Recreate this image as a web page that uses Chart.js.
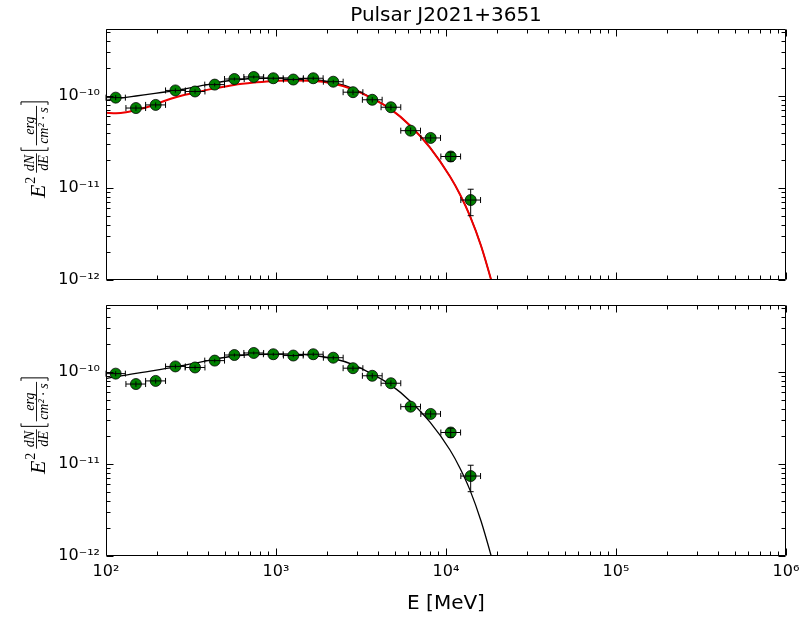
<!DOCTYPE html>
<html>
<head>
<meta charset="utf-8">
<script src="https://cdn.jsdelivr.net/npm/chart.js@4.4.1/dist/chart.umd.min.js"></script>
<style>
  body { margin: 0; background: #fff; }
  #wrap { position: relative; width: 806px; height: 621px; }
  canvas { position: absolute; left: 0; }
</style>
</head>
<body>
<div id="wrap">
  <canvas id="topChart" width="806" height="300" style="top:0"></canvas>
  <canvas id="bottomChart" width="806" height="336" style="top:285px"></canvas>
</div>
<script>
// measured spectral points (E in MeV, E^2 dN/dE in erg/cm2/s)
var energy   = [114, 150, 196, 256, 334, 436, 569, 740, 964, 1264, 1656, 2172, 2837, 3683, 4742, 6194, 8124, 10660, 13970];
var energyLo = [100, 131, 171, 224, 292, 381, 498, 647, 843, 1106, 1449, 1900, 2482, 3222, 4149, 5419, 7108, 9326, 12222];
var energyHi = [130, 171, 224, 293, 382, 498, 650, 846, 1102, 1445, 1893, 2483, 3243, 4210, 5420, 7080, 9286, 12184, 15968];
var flux     = [9.6e-11, 7.4e-11, 8.0e-11, 1.15e-10, 1.12e-10, 1.33e-10, 1.53e-10, 1.61e-10, 1.56e-10, 1.51e-10, 1.56e-10, 1.43e-10, 1.10e-10, 9.1e-11, 7.55e-11, 4.2e-11, 3.5e-11, 2.2e-11, 7.4e-12];
var fluxLo   = [9.0e-11, 6.9e-11, 7.5e-11, 1.09e-10, 1.06e-10, 1.27e-10, 1.47e-10, 1.55e-10, 1.50e-10, 1.45e-10, 1.49e-10, 1.36e-10, 1.03e-10, 8.5e-11, 7.0e-11, 3.85e-11, 3.2e-11, 1.95e-11, 5.0e-12];
var fluxHi   = [1.02e-10, 7.9e-11, 8.5e-11, 1.21e-10, 1.18e-10, 1.39e-10, 1.59e-10, 1.67e-10, 1.62e-10, 1.57e-10, 1.63e-10, 1.50e-10, 1.17e-10, 9.7e-11, 8.1e-11, 4.55e-11, 3.8e-11, 2.45e-11, 9.7e-12];

// model curves
var modelE = [100, 114.5, 131.1, 150, 171.9, 194.2, 222.3, 254.6, 291.5, 333.8, 437.7, 566.2, 742.4, 972.9, 1276, 1673, 2164, 2837, 3670, 4749, 6141, 8053, 10557, 12090, 13843, 16069, 18650, 20780];
var modelTopBlack = [8.93e-11, 9.33e-11, 9.68e-11, 1.00e-10, 1.036e-10, 1.07e-10, 1.105e-10, 1.142e-10, 1.194e-10, 1.253e-10, 1.384e-10, 1.493e-10, 1.549e-10, 1.570e-10, 1.562e-10, 1.511e-10, 1.402e-10, 1.206e-10, 9.51e-11, 7.15e-11, 4.78e-11, 2.755e-11, 1.334e-11, 8.50e-12, 4.96e-12, 2.36e-12, 9.28e-13, 4.38e-13];
var modelTopRed = [6.57e-11, 6.50e-11, 6.65e-11, 7.05e-11, 7.50e-11, 8.09e-11, 8.87e-11, 9.64e-11, 1.03e-10, 1.09e-10, 1.21e-10, 1.32e-10, 1.40e-10, 1.46e-10, 1.47e-10, 1.46e-10, 1.37e-10, 1.18e-10, 9.4e-11, 7.15e-11, 4.78e-11, 2.755e-11, 1.334e-11, 8.50e-12, 4.96e-12, 2.36e-12, 9.28e-13, 4.38e-13];
var modelBottom = [8.49e-11, 8.89e-11, 9.27e-11, 9.64e-11, 1.005e-10, 1.043e-10, 1.087e-10, 1.133e-10, 1.19e-10, 1.25e-10, 1.384e-10, 1.493e-10, 1.549e-10, 1.570e-10, 1.562e-10, 1.511e-10, 1.402e-10, 1.206e-10, 9.51e-11, 7.2e-11, 4.85e-11, 2.85e-11, 1.42e-11, 9.0e-12, 5.2e-12, 2.4e-12, 9.3e-13, 4.4e-13];

var xTicks = [1e2, 1e3, 1e4, 1e5, 1e6];
var xTickLabels = ['10²', '10³', '10⁴', '10⁵', '10⁶'];
var yTicks = [1e-12, 1e-11, 1e-10];
var yTickLabels = ['10⁻¹²', '10⁻¹¹', '10⁻¹⁰'];

Chart.defaults.font.family = '"DejaVu Sans", sans-serif';
Chart.defaults.color = '#000';

function xy(xs, ys) {
  return xs.map(function (x, i) { return { x: x, y: ys[i] }; });
}

var serif = '"Liberation Serif", "DejaVu Serif", serif';

// E^2 dN/dE [erg / cm^2 s], rotated, drawn as a small mathtext-like label
function drawYLabel(ctx, cx, cy) {
  function frac(u, num, den, size, draw) {
    ctx.font = 'italic ' + size + 'px ' + serif;
    var wn = ctx.measureText(num).width, wd = ctx.measureText(den).width;
    var w = Math.max(wn, wd) + 3;
    if (draw) {
      ctx.fillRect(u, -9, w, 0.9);
      ctx.fillText(num, u + (w - wn) / 2, -11.5);
      ctx.fillText(den, u + (w - wd) / 2, 3);
    }
    return u + w;
  }
  function bracket(u, open, draw) {
    if (draw) {
      ctx.beginPath();
      var a = open ? u + 3 : u, b = open ? u : u + 3;
      ctx.moveTo(a, -24); ctx.lineTo(b, -24); ctx.lineTo(b, 3); ctx.lineTo(a, 3);
      ctx.stroke();
    }
    return u + 4;
  }
  function layout(draw) {
    var u = 0;
    ctx.font = 'italic 22px ' + serif;
    if (draw) ctx.fillText('E', u, 0);
    u += ctx.measureText('E').width + 1;
    ctx.font = '14px ' + serif;
    if (draw) ctx.fillText('2', u, -10);
    u += ctx.measureText('2').width + 4;
    u = frac(u, 'dN', 'dE', 14, draw) + 3;
    u = bracket(u, true, draw) + 1;
    u = frac(u, 'erg', 'cm² · s', 14, draw) + 1;
    u = bracket(u, false, draw);
    return u;
  }
  ctx.save();
  ctx.fillStyle = '#000';
  ctx.strokeStyle = '#000';
  ctx.lineWidth = 1;
  ctx.textAlign = 'left';
  ctx.textBaseline = 'alphabetic';
  var len = layout(false);
  ctx.translate(cx, cy + len / 2);
  ctx.rotate(-Math.PI / 2);
  layout(true);
  ctx.restore();
}

var panelDecor = {
  id: 'panelDecor',
  afterDatasetsDraw: function (chart) {
    var ctx = chart.ctx, xs = chart.scales.x, ys = chart.scales.y;
    ctx.save();
    ctx.strokeStyle = '#000';
    ctx.lineWidth = 1;
    ctx.beginPath();
    for (var i = 0; i < energy.length; i++) {
      var px = xs.getPixelForValue(energy[i]);
      var py = ys.getPixelForValue(flux[i]);
      var x0 = xs.getPixelForValue(energyLo[i]), x1 = xs.getPixelForValue(energyHi[i]);
      var y0 = ys.getPixelForValue(fluxLo[i]), y1 = ys.getPixelForValue(fluxHi[i]);
      ctx.moveTo(x0, py); ctx.lineTo(x1, py);
      ctx.moveTo(x0, py - 3); ctx.lineTo(x0, py + 3);
      ctx.moveTo(x1, py - 3); ctx.lineTo(x1, py + 3);
      ctx.moveTo(px, y0); ctx.lineTo(px, y1);
      if (y0 - y1 > 8) {
        ctx.moveTo(px - 3, y0); ctx.lineTo(px + 3, y0);
        ctx.moveTo(px - 3, y1); ctx.lineTo(px + 3, y1);
      }
    }
    ctx.stroke();
    ctx.restore();
  },
  afterDraw: function (chart, args, opts) {
    var ctx = chart.ctx, a = chart.chartArea;
    var xs = chart.scales.x, ys = chart.scales.y;
    var L = Math.round(a.left) + 0.5, R = Math.round(a.right) - 0.5;
    var T = Math.round(a.top) + 0.5, B = Math.round(a.bottom) - 0.5;
    ctx.save();
    ctx.strokeStyle = '#000';
    ctx.lineWidth = 1;
    ctx.beginPath();
    ctx.rect(L, T, R - L, B - T);
    // inward ticks on all four sides
    for (var d = 2; d <= 6; d++) {
      for (var m = 1; m <= 9; m++) {
        var v = m * Math.pow(10, d);
        if (v > 1e6 * 1.0001) break;
        var px = Math.round(xs.getPixelForValue(v)) + 0.5;
        var len = m === 1 ? 7 : 4;
        ctx.moveTo(px, B); ctx.lineTo(px, B - len);
        ctx.moveTo(px, T); ctx.lineTo(px, T + len);
      }
    }
    for (var e = -12; e <= -10; e++) {
      for (var k = 1; k <= 9; k++) {
        var w = k * Math.pow(10, e);
        if (w > ys.max) break;
        var py = Math.round(ys.getPixelForValue(w)) + 0.5;
        var l2 = k === 1 ? 7 : 4;
        ctx.moveTo(L, py); ctx.lineTo(L + l2, py);
        ctx.moveTo(R, py); ctx.lineTo(R - l2, py);
      }
    }
    ctx.stroke();
    drawYLabel(ctx, 45, (a.top + a.bottom) / 2 - 5);
    if (opts.title) {
      ctx.fillStyle = '#000';
      ctx.font = '20px "DejaVu Sans"';
      ctx.textAlign = 'center';
      ctx.textBaseline = 'alphabetic';
      ctx.fillText(opts.title, (a.left + a.right) / 2, 21);
    }
    ctx.restore();
  }
};

function makeOptions(isBottom, title) {
  return {
    responsive: false,
    animation: false,
    layout: { padding: isBottom ? { top: 20, right: 20, bottom: 0, left: 0 } : { top: 29, right: 20, bottom: 20, left: 0 } },
    plugins: {
      legend: { display: false },
      tooltip: { enabled: false },
      panelDecor: { title: title }
    },
    scales: {
      x: {
        type: 'logarithmic',
        min: 100,
        max: 1e6,
        grid: { display: false, drawTicks: false },
        border: { display: false },
        afterBuildTicks: function (s) { s.ticks = xTicks.map(function (v) { return { value: v }; }); },
        ticks: {
          display: isBottom,
          autoSkip: false,
          maxRotation: 0,
          padding: 6,
          font: { size: 16 },
          callback: function (v, i) { return xTickLabels[i]; }
        },
        title: { display: isBottom, text: 'E [MeV]', font: { size: 20 }, padding: { top: 0, bottom: 5 } },
        afterFit: function (s) { s.height = isBottom ? 65 : 0; }
      },
      y: {
        type: 'logarithmic',
        min: 1e-12,
        max: 5.35e-10,
        grid: { display: false, drawTicks: false },
        border: { display: false },
        afterBuildTicks: function (s) { s.ticks = yTicks.map(function (v) { return { value: v }; }); },
        ticks: {
          autoSkip: false,
          padding: 6,
          font: { size: 16 },
          callback: function (v, i) { return yTickLabels[i]; }
        },
        afterFit: function (s) { s.width = 106; }
      }
    }
  };
}

function pointsSet() {
  return {
    label: 'data',
    data: xy(energy, flux),
    showLine: false,
    pointRadius: 5.5,
    pointBackgroundColor: '#008000',
    pointBorderColor: '#000',
    pointBorderWidth: 0.8,
    clip: false
  };
}

new Chart(document.getElementById('topChart'), {
  type: 'line',
  data: {
    datasets: [
      pointsSet(),
      { label: 'red', data: xy(modelE, modelTopRed), borderColor: '#ee0000', borderWidth: 2, pointRadius: 0, cubicInterpolationMode: 'monotone', clip: 0 },
      { label: 'black', data: xy(modelE, modelTopBlack), borderColor: '#000', borderWidth: 1.3, pointRadius: 0, cubicInterpolationMode: 'monotone', clip: 0 }
    ]
  },
  options: makeOptions(false, 'Pulsar J2021+3651'),
  plugins: [panelDecor]
});

new Chart(document.getElementById('bottomChart'), {
  type: 'line',
  data: {
    datasets: [
      pointsSet(),
      { label: 'model', data: xy(modelE, modelBottom), borderColor: '#000', borderWidth: 1.3, pointRadius: 0, cubicInterpolationMode: 'monotone', clip: 0 }
    ]
  },
  options: makeOptions(true, null),
  plugins: [panelDecor]
});
</script>
</body>
</html>
